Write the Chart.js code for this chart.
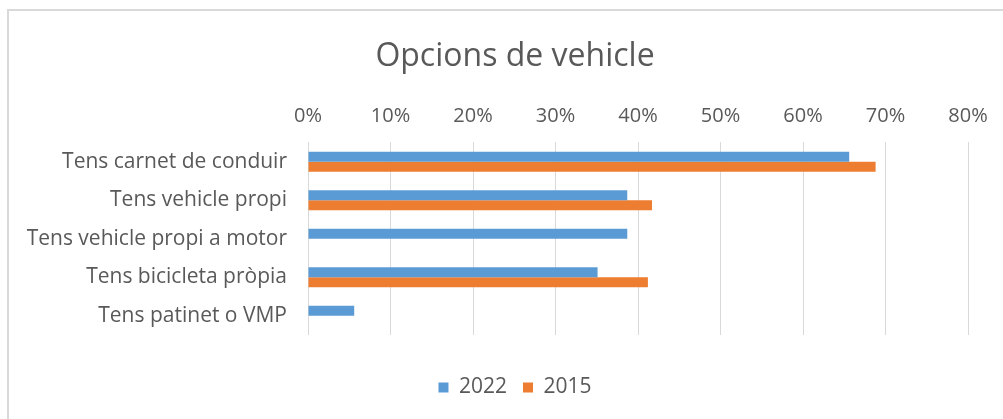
<!DOCTYPE html>
<html>
<head>
<meta charset="utf-8">
<script src="https://cdn.jsdelivr.net/npm/chart.js@4/dist/chart.umd.min.js"></script>
<style>
  html, body { margin: 0; padding: 0; background: #fff; }
  #wrap { position: relative; width: 1003px; height: 419px; }
</style>
</head>
<body>
<div id="wrap"><canvas id="myChart" width="1003" height="419"></canvas></div>
<script>
const categories = [
    'Tens carnet de conduir',
    'Tens vehicle propi',
    'Tens vehicle propi a motor',
    'Tens bicicleta pròpia',
    'Tens patinet o VMP',
];
const values2022 = [65.6, 38.7, 38.7, 35.1, 5.6];
const values2015 = [68.8, 41.7, null, 41.2, null];
const xTicks = [0, 10, 20, 30, 40, 50, 60, 70, 80];

const textColor = '#595959';
const gridColor = '#d9d9d9';
const fontFamily = '"Open Sans", "Segoe UI", sans-serif';

// light frame of the excel chart box (cut on right / bottom)
const frame = {
    id: 'frame',
    beforeDraw(chart) {
        const ctx = chart.ctx;
        ctx.save();
        ctx.fillStyle = '#fff';
        ctx.fillRect(0, 0, chart.width, chart.height);
        ctx.strokeStyle = gridColor;
        ctx.lineWidth = 2;
        ctx.beginPath();
        ctx.moveTo(8, chart.height);
        ctx.lineTo(8, 10);
        ctx.lineTo(chart.width, 10);
        ctx.stroke();
        ctx.restore();
    }
};

const data = {
    labels: categories,
    datasets: [{
        label: '2022',
        data: values2022,
        backgroundColor: '#5b9bd5',
    }, {
        label: '2015',
        data: values2015,
        backgroundColor: '#ed7d31',
    }]
};

const config = {
    type: 'bar',
    data,
    options: {
        indexAxis: 'y',
        responsive: false,
        animation: false,
        datasets: {
            bar: { categoryPercentage: 0.52, barPercentage: 1.0 }
        },
        // the original chart box runs past the right edge, so right padding is negative
        layout: { padding: { left: 7, right: -20, top: 22, bottom: 11 } },
        plugins: {
            title: {
                display: true,
                text: 'Opcions de vehicle',
                color: textColor,
                font: { family: fontFamily, size: 32, weight: 'normal' },
                padding: { top: 16, bottom: 25 }
            },
            legend: {
                position: 'bottom',
                labels: {
                    color: textColor,
                    font: { family: fontFamily, size: 21 },
                    boxWidth: 10,
                    boxHeight: 10,
                    padding: 16
                }
            },
            tooltip: { enabled: false }
        },
        scales: {
            x: {
                position: 'top',
                min: 0,
                max: 80,
                afterBuildTicks(scale) {
                    scale.ticks = xTicks.map(v => ({ value: v }));
                },
                afterFit(scale) { scale.height = 41; },
                ticks: {
                    color: textColor,
                    font: { family: fontFamily, size: 20 },
                    padding: 14,
                    callback: v => v + '%'
                },
                grid: { color: gridColor, lineWidth: 1, drawTicks: false },
                border: { display: false }
            },
            // empty space between plot and legend
            x2: {
                axis: 'x',
                type: 'linear',
                position: 'bottom',
                afterFit(scale) { scale.height = 26; },
                ticks: { display: false },
                grid: { display: false, drawTicks: false },
                border: { display: false }
            },
            y: {
                afterFit(scale) { scale.width = 301; },
                ticks: {
                    color: textColor,
                    font: { family: fontFamily, size: 21 },
                    padding: 21
                },
                grid: { display: false, drawTicks: false },
                border: { display: false }
            },
            // empty space right of the plot
            y2: {
                axis: 'y',
                type: 'linear',
                position: 'right',
                afterFit(scale) { scale.width = 55; },
                ticks: { display: false },
                grid: { display: false, drawTicks: false },
                border: { display: false }
            }
        }
    },
    plugins: [frame]
};

var myChart = new Chart(
    document.getElementById('myChart'),
    config
);
</script>
</body>
</html>
